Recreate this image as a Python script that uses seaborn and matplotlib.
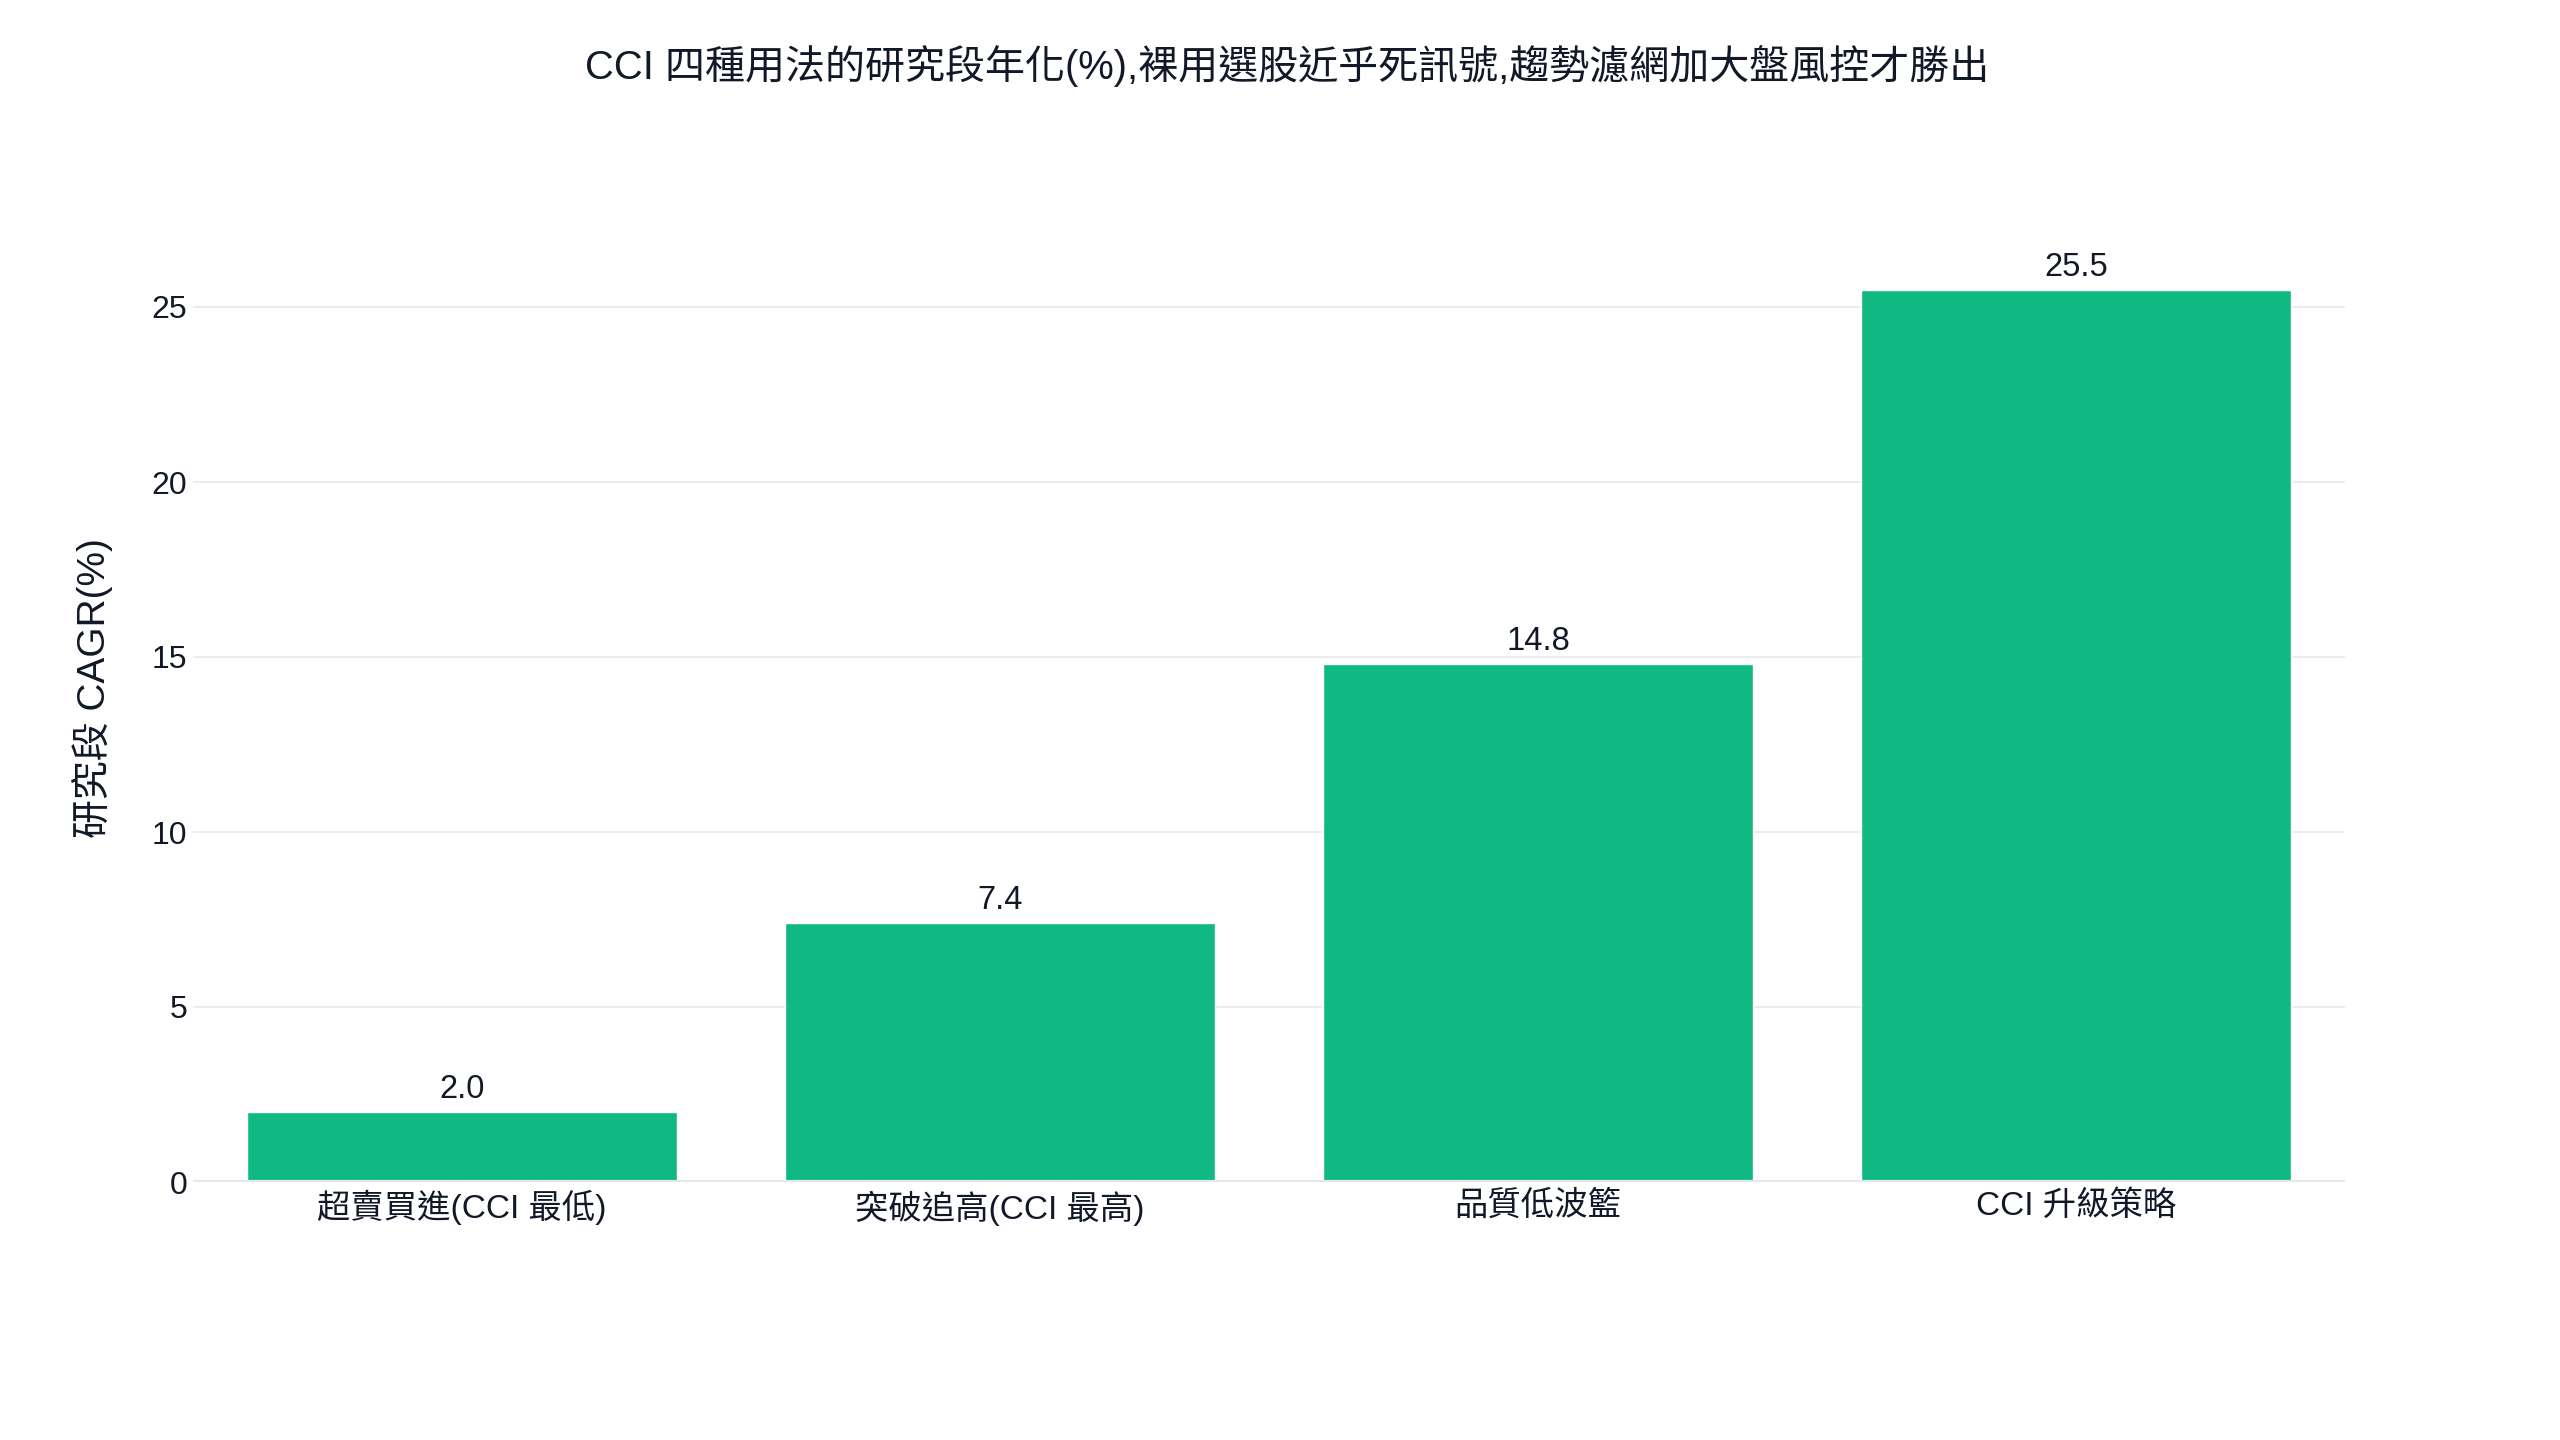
import matplotlib
matplotlib.use("Agg")
import matplotlib.pyplot as plt
import seaborn as sns
import pandas as pd

categories = ["超賣買進(CCI 最低)", "突破追高(CCI 最高)", "品質低波籃", "CCI 升級策略"]
cagr = [2.0, 7.4, 14.8, 25.5]
yticks = [0, 5, 10, 15, 20, 25]

title = "CCI 四種用法的研究段年化(%),裸用選股近乎死訊號,趨勢濾網加大盤風控才勝出"
ylabel = "研究段 CAGR(%)"

sns.set_theme(style="white")
plt.rcParams["font.family"] = ["Liberation Sans", "Noto Sans CJK TC", "DejaVu Sans"]

text_color = "#111827"
bar_color = "#10B981"
grid_color = "#E9EDF3"

df = pd.DataFrame({"cat": categories, "val": cagr})

W, H = 2560, 1440
left, right, top, bottom = 193, 2345, 194, 1182
fig = plt.figure(figsize=(W / 100, H / 100), dpi=100)
ax = fig.add_axes([left / W, 1 - bottom / H, (right - left) / W, (bottom - top) / H])

sns.barplot(data=df, x="cat", y="val", color=bar_color, saturation=1, width=0.8, ax=ax, zorder=3)

ax.set_xlim(-0.5, 3.5)
ax.set_ylim(0, (bottom - top) / 35.0)
ax.set_yticks(yticks)
ax.set_yticklabels([str(t) for t in yticks])
ax.grid(axis="y", color=grid_color, linewidth=1.5, zorder=0)
ax.axhline(0, color="#E3E8F0", linewidth=3, zorder=4)
for s in ax.spines.values():
    s.set_visible(False)
ax.tick_params(axis="x", length=0, labelsize=24, colors=text_color, pad=6)
ax.tick_params(axis="y", length=0, labelsize=23, colors=text_color, pad=4)
ax.set_xlabel("")
ax.set_ylabel(ylabel, fontsize=28, color=text_color)
ax.yaxis.label.set_verticalalignment("center")
ax.yaxis.set_label_coords((93 - left) / (right - left), 0.5)

for i, v in enumerate(cagr):
    ax.annotate(f"{v:.1f}", (i, v), xytext=(0, 5), textcoords="offset points",
                ha="center", va="bottom", fontsize=23.5, color=text_color)

fig.text((583 + 1991) / 2 / W, 1 - 66 / H, title, ha="center", va="center",
         fontsize=28.8, color=text_color)

fig.savefig("out.png", dpi=100, facecolor="white")
